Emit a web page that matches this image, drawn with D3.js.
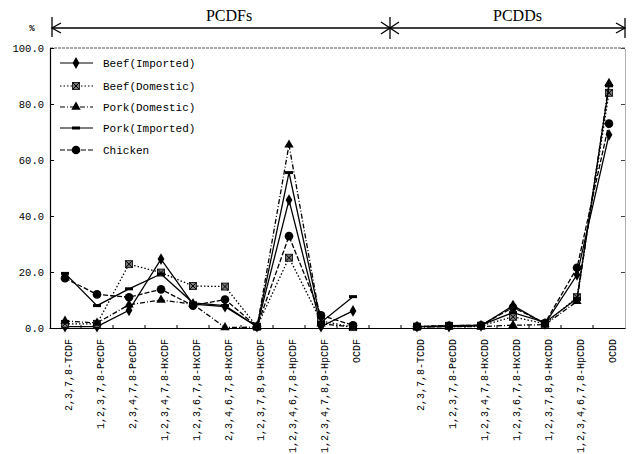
<!DOCTYPE html>
<html>
<head>
<meta charset="utf-8">
<script src="https://cdn.jsdelivr.net/npm/d3@7"></script>
<style>
  body { margin: 0; background: #fff; }
  svg text { fill: #000; }
</style>
</head>
<body>
<script>
// congener labels, PCDFs then PCDDs
const pcdfLabels = ["2,3,7,8-TCDF", "1,2,3,7,8-PeCDF", "2,3,4,7,8-PeCDF", "1,2,3,4,7,8-HxCDF",
    "1,2,3,6,7,8-HxCDF", "2,3,4,6,7,8-HxCDF", "1,2,3,7,8,9-HxCDF", "1,2,3,4,6,7,8-HpCDF",
    "1,2,3,4,7,8,9-HpCDF", "OCDF"];
const pcddLabels = ["2,3,7,8-TCDD", "1,2,3,7,8-PeCDD", "1,2,3,4,7,8-HxCDD", "1,2,3,6,7,8-HxCDD",
    "1,2,3,7,8,9-HxCDD", "1,2,3,4,6,7,8-HpCDD", "OCDD"];

const yTicks = [0, 20, 40, 60, 80, 100];

// % of total, first 10 = PCDFs, last 7 = PCDDs
const beefImported  = [0.5, 0.5, 6.3, 24.6, 8.5, 7.6, 0.5, 45.7, 0.5, 6.1,   0.5, 0.5, 0.8, 8.0, 1.5, 19.0, 69.0];
const beefDomestic  = [1.5, 1.5, 22.8, 19.8, 15.0, 14.8, 0.5, 25.1, 2.5, 0.3,  0.5, 0.8, 0.8, 4.0, 1.5, 11.0, 84.0];
const porkDomestic  = [2.5, 1.8, 8.3, 10.0, 8.5, 0.2, 0.3, 65.4, 1.5, 0.3,   0.3, 0.5, 0.5, 1.0, 1.2, 9.5, 87.4];
const porkImported  = [19.5, 8.0, 14.0, 19.3, 9.0, 8.0, 0.5, 55.5, 2.0, 11.2, 0.5, 0.8, 1.0, 5.5, 2.0, 10.5, 86.5];
const chicken       = [17.8, 12.0, 11.0, 13.8, 8.0, 10.2, 0.5, 32.8, 4.5, 1.0,  0.5, 0.8, 1.0, 7.3, 1.8, 21.5, 73.0];

const series = [
    { name: "Beef(Imported)", values: beefImported, dash: null, marker: "diamond" },
    { name: "Beef(Domestic)", values: beefDomestic, dash: "1.5,2", marker: "xsquare" },
    { name: "Pork(Domestic)", values: porkDomestic, dash: "5,2,1,2", marker: "triangle" },
    { name: "Pork(Imported)", values: porkImported, dash: null, marker: "bar" },
    { name: "Chicken", values: chicken, dash: "5,2", marker: "circle" }
];

const width = 636, height = 454;
const plotLeft = 50, plotRight = 625, plotTop = 48, plotBottom = 328;
const mono = "'Liberation Mono', 'DejaVu Sans Mono', monospace";

const svg = d3.select("body").append("svg")
    .attr("width", width)
    .attr("height", height);

// one empty slot between the two groups
const gap = " ";
const slots = pcdfLabels.concat([gap], pcddLabels);

const x = d3.scaleBand()
    .domain(slots)
    .range([plotLeft - 1, plotRight]);
const cx = d => x(d) + x.bandwidth() / 2;

const y = d3.scaleLinear()
    .domain([0, 100])
    .range([plotBottom, plotTop]);

// frame: top dashed, right dotted
svg.append("line")
    .attr("x1", plotLeft).attr("x2", plotRight).attr("y1", plotTop).attr("y2", plotTop)
    .attr("stroke", "#555").attr("stroke-dasharray", "3,1");

const rightAxis = svg.append("g")
    .attr("transform", `translate(${plotRight},0)`)
    .call(d3.axisRight(y).tickValues(yTicks).tickSize(-4).tickSizeOuter(0).tickFormat(""));
rightAxis.select(".domain").attr("stroke", "#666").attr("stroke-dasharray", "1,1");
rightAxis.selectAll(".tick line").attr("stroke", "#444");

// y axis
const yAxis = svg.append("g")
    .attr("transform", `translate(${plotLeft},0)`)
    .call(d3.axisLeft(y).tickValues(yTicks).tickSize(-4).tickSizeOuter(0).tickPadding(6)
        .tickFormat(d3.format(".1f")));
yAxis.selectAll("text")
    .style("font-family", mono)
    .style("font-size", "10.5px");
yAxis.select(".domain").attr("stroke-width", 1.2);

// x axis with rotated labels
const xAxis = svg.append("g")
    .attr("transform", `translate(0,${plotBottom})`)
    .call(d3.axisBottom(x).tickSize(0).tickSizeOuter(0));
xAxis.select(".domain").attr("stroke-width", 1.2);
xAxis.selectAll("text")
    .attr("x", 0).attr("y", 0)
    .attr("dy", "0.35em")
    .attr("transform", "translate(3,11) rotate(-90)")
    .style("text-anchor", "end")
    .style("font-family", mono)
    .style("font-size", "10px");

// small ticks at band edges
svg.append("g")
    .selectAll("line")
    .data(slots.slice(1))
    .enter().append("line")
    .attr("x1", d => x(d)).attr("x2", d => x(d))
    .attr("y1", plotBottom).attr("y2", plotBottom - 3)
    .attr("stroke", "#000");

// markers
function drawMarker(g, type) {
    if (type === "diamond") {
        g.append("path").attr("d", d3.symbol(d3.symbolDiamond, 40)()).attr("fill", "#000");
    } else if (type === "xsquare") {
        g.append("rect").attr("x", -3.5).attr("y", -3.5).attr("width", 7).attr("height", 7)
            .attr("fill", "#777").attr("stroke", "#000").attr("stroke-width", 0.8);
        g.append("path").attr("d", "M-3.5,-3.5L3.5,3.5M3.5,-3.5L-3.5,3.5")
            .attr("stroke", "#000").attr("stroke-width", 1);
    } else if (type === "triangle") {
        g.append("path").attr("d", d3.symbol(d3.symbolTriangle, 38)()).attr("fill", "#000");
    } else if (type === "bar") {
        g.append("rect").attr("x", -4).attr("y", -1.5).attr("width", 8).attr("height", 3).attr("fill", "#000");
    } else {
        g.append("circle").attr("r", 4.3).attr("fill", "#000");
    }
}

const line = d3.line()
    .x(d => cx(d.label))
    .y(d => y(d.value));

const plot = svg.append("g");

series.forEach(s => {
    const pts = slots.filter(d => d !== gap).map((label, i) => ({ label, value: s.values[i] }));
    const groups = [pts.slice(0, pcdfLabels.length), pts.slice(pcdfLabels.length)];

    groups.forEach(grp => {
        plot.append("path")
            .datum(grp)
            .attr("d", line)
            .attr("fill", "none")
            .attr("stroke", "#000")
            .attr("stroke-width", 1.3)
            .attr("stroke-dasharray", s.dash);
    });

    plot.append("g")
        .selectAll("g")
        .data(pts)
        .enter().append("g")
        .attr("transform", d => `translate(${cx(d.label)},${y(d.value)})`)
        .each(function () { drawMarker(d3.select(this), s.marker); });
});

// legend
const legend = svg.append("g");
const legendY = [63, 86, 107, 128, 150];
series.forEach((s, i) => {
    const row = legend.append("g").attr("transform", `translate(60,${legendY[i]})`);
    row.append("line")
        .attr("x1", 0).attr("x2", 33)
        .attr("stroke", "#000").attr("stroke-width", 1.2)
        .attr("stroke-dasharray", s.dash);
    const m = row.append("g").attr("transform", "translate(16,0)");
    drawMarker(m, s.marker);
    row.append("text")
        .attr("x", 43).attr("dy", "0.35em")
        .style("font-family", mono)
        .style("font-size", "11px")
        .text(s.name);
});

// group header with arrows
const head = svg.append("g").attr("stroke", "#000").attr("stroke-width", 1.3).attr("fill", "none");
const ay = 28, mid = 390;
head.append("line").attr("x1", 52).attr("x2", plotRight).attr("y1", ay).attr("y2", ay);
head.append("line").attr("x1", 52).attr("x2", 52).attr("y1", 17).attr("y2", 37);
head.append("line").attr("x1", mid).attr("x2", mid).attr("y1", 17).attr("y2", 39);
head.append("line").attr("x1", plotRight).attr("x2", plotRight).attr("y1", 18).attr("y2", 38);
head.append("path").attr("d", `M61,23L52,${ay}L61,33`);
head.append("path").attr("d", `M${mid - 9},22L${mid},${ay}L${mid - 9},34`);
head.append("path").attr("d", `M${mid + 9},22L${mid},${ay}L${mid + 9},34`);
head.append("path").attr("d", `M${plotRight - 9},23L${plotRight},${ay}L${plotRight - 9},33`);

svg.append("text")
    .attr("x", (52 + mid) / 2 + 8).attr("y", 21)
    .attr("text-anchor", "middle")
    .style("font-family", "'Liberation Serif', serif")
    .style("font-size", "16px")
    .text("PCDFs");
svg.append("text")
    .attr("x", (mid + plotRight) / 2 + 10).attr("y", 21)
    .attr("text-anchor", "middle")
    .style("font-family", "'Liberation Serif', serif")
    .style("font-size", "16px")
    .text("PCDDs");
svg.append("text")
    .attr("x", 32).attr("y", 31)
    .attr("text-anchor", "middle")
    .style("font-family", mono)
    .style("font-size", "9px")
    .style("font-weight", "bold")
    .text("%");
</script>
</body>
</html>
